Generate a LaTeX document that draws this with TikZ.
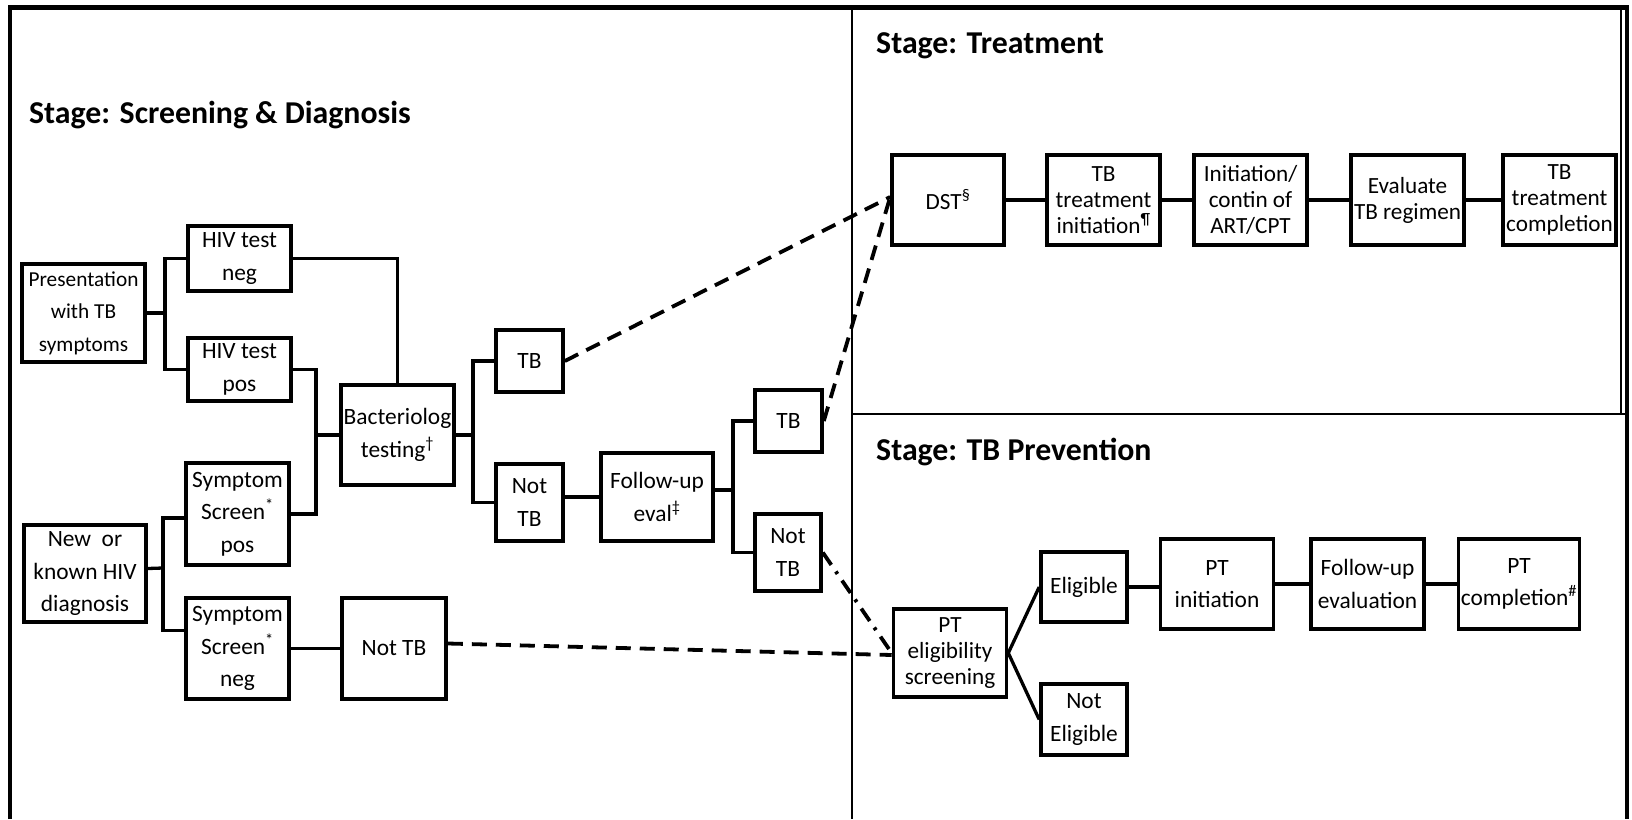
\documentclass[tikz,border=0pt]{standalone}
\usepackage{fontspec}
\setmainfont{Carlito}
\usetikzlibrary{calc}
\begin{document}
\begin{tikzpicture}[x=1pt,y=-1pt,
  bx/.style={draw, line width=3.6pt, align=center, inner sep=0pt, font=\fontsize{23.4}{32.5}\selectfont},
  tight/.style={font=\fontsize{23.2}{26}\selectfont},
  conn/.style={line width=3.3pt},
  dsh/.style={line width=3.8pt, dash pattern=on 15pt off 9pt},
  dshdot/.style={line width=3.8pt, dash pattern=on 15pt off 8pt on 3pt off 8pt},
  ttl/.style={anchor=base west, font=\fontsize{31.8}{36}\selectfont\bfseries, inner sep=0pt}]
\useasboundingbox (0,0) rectangle (1632,819);
% frame
\draw[line width=4.5pt] (10,819) -- (10,7.5) -- (1627,7.5) -- (1627,819);
\draw[line width=1.5pt] (1621,7.5) -- (1621,414);
\draw[line width=2pt] (852,7.5) -- (852,819);
\draw[line width=2pt] (852,414) -- (1627,414);
% titles
\node[ttl] (t1) at (29,123) {Stage: Screening \& Diagnosis};
\node[ttl] (t2) at (876,53) {Stage: Treatment};
\node[ttl] (t3) at (876,460) {Stage: TB Prevention};
% screening boxes
\node[bx, font=\fontsize{21.3}{32.5}\selectfont, minimum width=123pt, minimum height=98pt] (pres) at (83.5,313) {Presentation\\with TB\\symptoms};
\node[bx, minimum width=103pt, minimum height=65pt] (hivneg) at (239.5,258.5) {HIV test\\neg};
\node[bx, minimum width=103pt, minimum height=63pt] (hivpos) at (239.5,369.5) {HIV test\\pos};
\node[bx, minimum width=122pt, minimum height=97pt] (newhiv) at (85,573.5) {New~~or\\known HIV\\diagnosis};
\node[bx, minimum width=103pt, minimum height=102pt] (sympos) at (237.5,514) {Symptom\\Screen\textsuperscript{*}\\pos};
\node[bx, minimum width=103pt, minimum height=101pt] (symneg) at (237.5,648.5) {Symptom\\Screen\textsuperscript{*}\\neg};
\node[bx, minimum width=113pt, minimum height=100pt] (bact) at (397.5,435) {Bacteriolog\\testing\textsuperscript{†}};
\node[bx, minimum width=104pt, minimum height=101pt] (nottb1) at (394,648.5) {Not TB};
\node[bx, minimum width=67pt, minimum height=62pt] (tb1) at (529.5,361) {TB};
\node[bx, minimum width=67pt, minimum height=77pt] (nottb2) at (529.5,502.5) {Not\\TB};
\node[bx, minimum width=112pt, minimum height=88pt] (fu) at (657,497) {Follow-up\\eval\textsuperscript{‡}};
\node[bx, minimum width=67pt, minimum height=62pt] (tb2) at (788.5,421) {TB};
\node[bx, minimum width=66pt, minimum height=77pt] (nottb3) at (788,552.5) {Not\\TB};
% treatment boxes
\node[bx, tight, minimum width=112pt, minimum height=90pt] (dst) at (948,200) {DST\textsuperscript{§}};
\node[bx, tight, minimum width=113pt, minimum height=90pt] (tbinit) at (1103.5,200) {TB\\treatment\\initiation\textsuperscript{¶}};
\node[bx, tight, minimum width=113pt, minimum height=90pt] (artcpt) at (1250.5,200) {Initiation/\\contin of\\ART/CPT};
\node[bx, tight, minimum width=113pt, minimum height=90pt] (evalreg) at (1407.5,200) {Evaluate\\TB regimen};
\node[bx, tight, minimum width=113pt, minimum height=90pt] (tbcomp) at (1559.5,200) {TB\\treatment\\completion};
% prevention boxes
\node[bx, tight, minimum width=113pt, minimum height=88pt] (ptelig) at (950,653) {PT\\eligibility\\screening};
\node[bx, minimum width=86pt, minimum height=70pt] (elig) at (1084,587) {Eligible};
\node[bx, minimum width=86pt, minimum height=71pt] (notelig) at (1084,719.5) {Not\\Eligible};
\node[bx, minimum width=113pt, minimum height=90pt] (ptinit) at (1217,584) {PT\\initiation};
\node[bx, minimum width=113pt, minimum height=90pt] (fueval) at (1367.5,584) {Follow-up\\evaluation};
\node[bx, minimum width=121pt, minimum height=90pt] (ptcomp) at (1519,584) {PT\\completion\textsuperscript{\#}};
% branch points
\coordinate (b1) at (165,313);
\coordinate (b2) at (163,568);
\coordinate (b3) at (316,435);
\coordinate (b4) at (473,435);
\coordinate (b5) at (733,490);
% connectors
\draw[conn] (pres.east) -- (b1);
\draw[conn] (hivneg.west) -| (b1) |- (hivpos.west);
\draw[conn] ($(newhiv.east)+(0,-5)$) -- (b2);
\draw[conn] ($(sympos.west)+(0,4)$) -| (b2) |- ($(symneg.west)+(0,-18)$);
\draw[conn] (hivneg.east) -| (bact.north);
\draw[conn] (hivpos.east) -| (b3) |- (sympos.east);
\draw[conn] (b3) -- (bact.west);
\draw[conn] (bact.east) -- (b4);
\draw[conn] (tb1.west) -| (b4) |- (nottb2.west);
\draw[conn] (nottb2.east |- fu.west) -- (fu.west);
\draw[conn] ($(fu.east)+(0,-7)$) -- (b5);
\draw[conn] (tb2.west) -| (b5) |- (nottb3.west);
\draw[conn] (symneg.east) -- (nottb1.west);
\draw[conn] (dst) -- (tbinit);
\draw[conn] (tbinit) -- (artcpt);
\draw[conn] (artcpt) -- (evalreg);
\draw[conn] (evalreg) -- (tbcomp);
\draw[conn] (elig.east) -- (elig.east -| ptinit.west);
\draw[conn] (ptinit) -- (fueval);
\draw[conn] (fueval) -- (ptcomp);
\draw[conn] (ptelig.east) -- (elig.west);
\draw[conn] (ptelig.east) -- (notelig.west);
% dashed links
\draw[dsh] (tb1.east) -- ($(dst.west)+(0,-3)$);
\draw[dsh] (tb2.east) -- ($(dst.west)+(0,-3)$);
\draw[dshdot] (nottb3.east) -- (ptelig.west);
\draw[dsh] ($(nottb1.east)+(0,-5)$) -- ($(ptelig.west)+(0,2)$);
\end{tikzpicture}
\end{document}
